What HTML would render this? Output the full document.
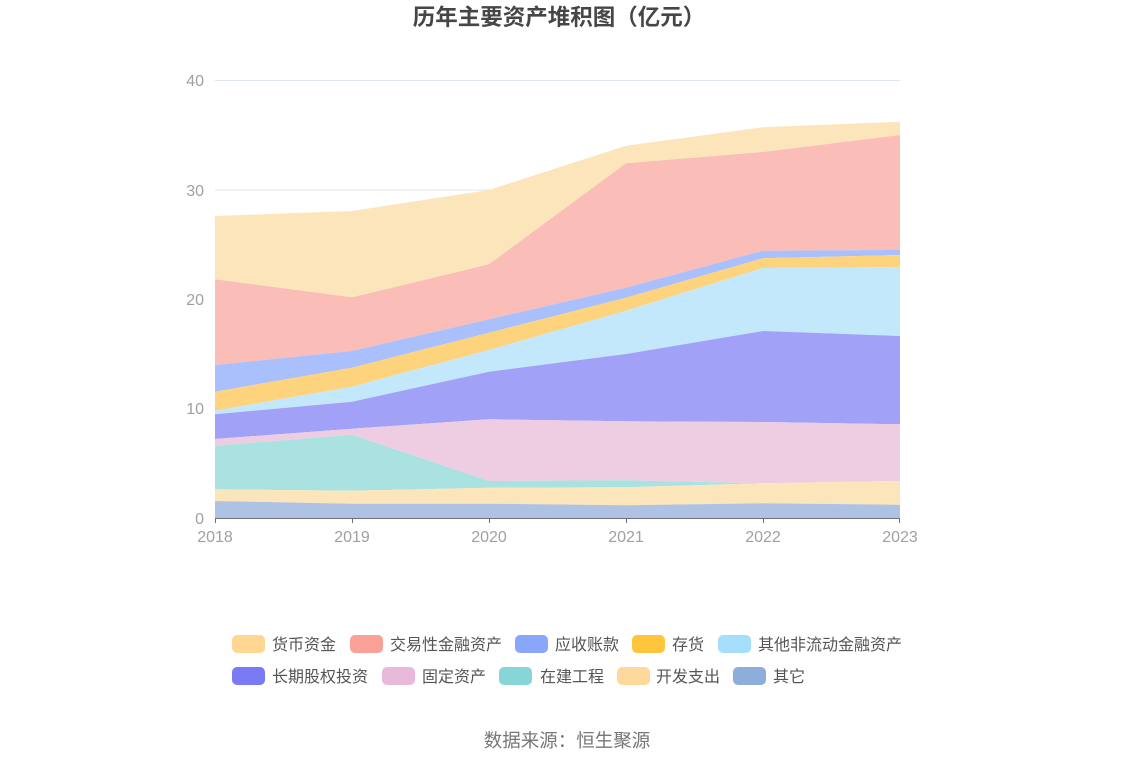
<!DOCTYPE html>
<html><head><meta charset="utf-8"><style>
html,body{margin:0;padding:0;background:#fff;}
body{width:1134px;height:766px;overflow:hidden;}
svg text{font-family:"Liberation Sans","Noto Sans CJK SC",sans-serif;}
</style></head><body>
<svg width="1134" height="766" viewBox="0 0 1134 766" xmlns="http://www.w3.org/2000/svg">
<text x="559" y="25" text-anchor="middle" font-size="22.5" font-weight="bold" fill="#464646">历年主要资产堆积图（亿元）</text>
<g stroke="#E0E6F1" stroke-width="1">
<line x1="215" y1="80.5" x2="900" y2="80.5"/>
<line x1="215" y1="190" x2="900" y2="190"/>
<line x1="215" y1="299" x2="900" y2="299"/>
<line x1="215" y1="408.5" x2="900" y2="408.5"/>
</g>
<g font-size="16" fill="#a0a0a0" text-anchor="end">
<text x="204" y="86">40</text>
<text x="204" y="196">30</text>
<text x="204" y="305">20</text>
<text x="204" y="414">10</text>
<text x="204" y="524">0</text>
</g>
<polygon fill="#fde5bb" points="215,216 352,211 489,190 626,145.7 763,127.3 900,121.7 900,135 763,152 626,163.3 489,264.3 352,297.3 215,279.3"/>
<polygon fill="#fabdb8" points="215,279.3 352,297.3 489,264.3 626,163.3 763,152 900,135 900,250 763,250.7 626,287.7 489,319.3 352,351 215,365"/>
<polygon fill="#a9c0fc" points="215,365 352,351 489,319.3 626,287.7 763,250.7 900,250 900,255 763,258.3 626,297.7 489,332.7 352,367.7 215,391.7"/>
<polygon fill="#fdd47d" points="215,391.7 352,367.7 489,332.7 626,297.7 763,258.3 900,255 900,267 763,268 626,310.7 489,350 352,386.7 215,410.7"/>
<polygon fill="#c4e8fb" points="215,410.7 352,386.7 489,350 626,310.7 763,268 900,267 900,336 763,331 626,354 489,371.7 352,401.7 215,414.3"/>
<polygon fill="#a0a1f7" points="215,414.3 352,401.7 489,371.7 626,354 763,331 900,336 900,424.3 763,422 626,421.3 489,419.3 352,428.7 215,439"/>
<polygon fill="#eecde3" points="215,439 352,428.7 489,419.3 626,421.3 763,422 900,424.3 900,481 763,483.3 626,480.3 489,481 352,434.7 215,445.7"/>
<polygon fill="#aae2e2" points="215,445.7 352,434.7 489,481 626,480.3 763,483.3 900,481 900,481 763,483.3 626,487.3 489,487.7 352,490.7 215,489.3"/>
<polygon fill="#fde5bb" points="215,489.3 352,490.7 489,487.7 626,487.3 763,483.3 900,481 900,504.7 763,503.3 626,505.3 489,503.7 352,503.7 215,501"/>
<polygon fill="#aec3e3" points="215,501 352,503.7 489,503.7 626,505.3 763,503.3 900,504.7 900,518 215,518"/>
<g stroke="#6E7079" stroke-width="1">
<line x1="215" y1="518.5" x2="900" y2="518.5"/>
<line x1="215.5" y1="518" x2="215.5" y2="523"/>
<line x1="352.5" y1="518" x2="352.5" y2="523"/>
<line x1="489.5" y1="518" x2="489.5" y2="523"/>
<line x1="626.5" y1="518" x2="626.5" y2="523"/>
<line x1="763.5" y1="518" x2="763.5" y2="523"/>
<line x1="899.5" y1="518" x2="899.5" y2="523"/>
</g>
<g font-size="16" fill="#a0a0a0" text-anchor="middle">
<text x="215" y="542">2018</text>
<text x="352" y="542">2019</text>
<text x="489" y="542">2020</text>
<text x="626" y="542">2021</text>
<text x="763" y="542">2022</text>
<text x="900" y="542">2023</text>
</g>
<g font-size="16" fill="#555">
<rect x="232" y="635" width="33" height="18" rx="5" fill="#FFD792"/><text x="272" y="650">货币资金</text>
<rect x="350" y="635" width="33" height="18" rx="5" fill="#F9A097"/><text x="390" y="650">交易性金融资产</text>
<rect x="515" y="635" width="33" height="18" rx="5" fill="#89A7FA"/><text x="555" y="650">应收账款</text>
<rect x="632" y="635" width="33" height="18" rx="5" fill="#FFC53D"/><text x="672" y="650">存货</text>
<rect x="718" y="635" width="33" height="18" rx="5" fill="#A6DFFB"/><text x="758" y="650">其他非流动金融资产</text>
<rect x="232" y="667" width="33" height="18" rx="5" fill="#7A7BF4"/><text x="272" y="682">长期股权投资</text>
<rect x="382" y="667" width="33" height="18" rx="5" fill="#E8B9DA"/><text x="422" y="682">固定资产</text>
<rect x="499" y="667" width="33" height="18" rx="5" fill="#86D6D7"/><text x="540" y="682">在建工程</text>
<rect x="617" y="667" width="33" height="18" rx="5" fill="#FFD99B"/><text x="656" y="682">开发支出</text>
<rect x="733" y="667" width="33" height="18" rx="5" fill="#8DADDB"/><text x="773" y="682">其它</text>
</g>
<text x="567" y="747" text-anchor="middle" font-size="18.5" fill="#777">数据来源：恒生聚源</text>
</svg>
</body></html>
